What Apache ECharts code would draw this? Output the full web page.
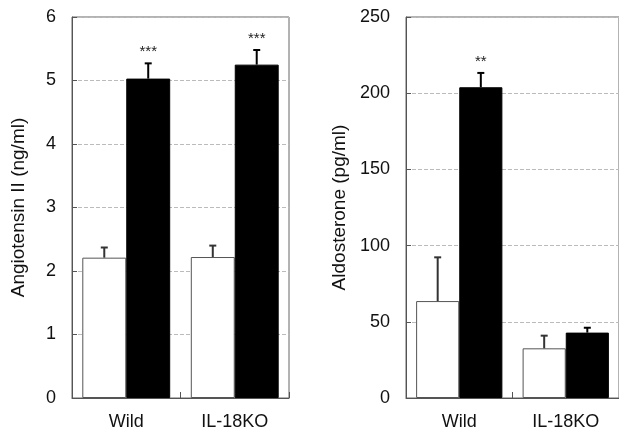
<!DOCTYPE html>
<html>
<head>
<meta charset="utf-8">
<script src="https://cdn.jsdelivr.net/npm/echarts@6/dist/echarts.min.js"></script>
<style>html,body{margin:0;padding:0;background:#fff;}#c{width:619px;height:432px;}</style>
</head>
<body>
<div id="c"></div>
<script>
const categories = ['Wild', 'IL-18KO'];
// Angiotensin II (ng/ml)
const angControl = [2.21, 2.22];
const angControlErr = [0.16, 0.18];
const angTreated = [5.03, 5.25];
const angTreatedErr = [0.24, 0.23];
const angSig = ['***', '***'];
const angTicks = [0, 1, 2, 3, 4, 5, 6];
// Aldosterone (pg/ml)
const aldoControl = [63.6, 32.6];
const aldoControlErr = [28.7, 8.3];
const aldoTreated = [203.9, 42.9];
const aldoTreatedErr = [9.4, 3.2];
const aldoSig = ['**', ''];
const aldoTicks = [0, 50, 100, 150, 200, 250];

const FONT = 'Liberation Sans, Arial, sans-serif';
const GAP = 0.19;

function errData(vals, errs, side, sig) {
  return vals.map((v, i) => [i, v, errs[i], side, sig ? sig[i] : '']);
}
function errRender(color) {
  return function (params, api) {
    const ci = api.value(0), v = api.value(1), e = api.value(2), side = api.value(3);
    const sig = api.value(4);
    const band = api.size([1, 0])[0];
    const bw = band * (1 - GAP) / 2;
    const base = api.coord([ci, v]);
    const top = api.coord([ci, v + e]);
    const x = base[0] + side * bw / 2;
    const children = [
      {type: 'line', shape: {x1: x, y1: base[1], x2: x, y2: top[1]}, style: {stroke: color, lineWidth: 2}},
      {type: 'line', shape: {x1: x - 3.5, y1: top[1], x2: x + 3.5, y2: top[1]}, style: {stroke: color, lineWidth: 2}}
    ];
    if (sig) {
      children.push({type: 'text', style: {text: sig, x: x, y: top[1] - 11, align: 'center', verticalAlign: 'middle',
        fontSize: 15, fontFamily: FONT, fill: '#222'}});
    }
    return {type: 'group', children: children};
  };
}

function yAxis(idx, ticks, name, gap) {
  return {
    type: 'value', gridIndex: idx, min: ticks[0], max: ticks[ticks.length - 1],
    interval: ticks[1] - ticks[0],
    name: name, nameLocation: 'middle', nameGap: gap, nameRotate: 90,
    nameTextStyle: {fontSize: 19, fontFamily: FONT, color: '#111'},
    axisLine: {show: true, lineStyle: {color: '#555', width: 1}},
    axisTick: {show: true, inside: true, length: 5, lineStyle: {color: '#555'}},
    axisLabel: {fontSize: 18, fontFamily: FONT, color: '#111', margin: 16},
    splitLine: {show: true, lineStyle: {type: 'dashed', color: '#bbb', width: 1}}
  };
}
function xAxis(idx) {
  return {
    type: 'category', gridIndex: idx, data: categories,
    axisLine: {show: true, lineStyle: {color: '#555', width: 1}},
    axisTick: {show: true, inside: true, length: 6, lineStyle: {color: '#555'}},
    axisLabel: {fontSize: 18, fontFamily: FONT, color: '#111', margin: 15}
  };
}
function bars(idx, vals, color) {
  return {
    type: 'bar', xAxisIndex: idx, yAxisIndex: idx, data: vals,
    barGap: '0%', barCategoryGap: (GAP * 100) + '%',
    itemStyle: {color: color, borderColor: color === '#fff' ? '#555' : '#000', borderWidth: 1},
    z: 2
  };
}
function errs(idx, vals, e, side, color, sig) {
  return {
    type: 'custom', xAxisIndex: idx, yAxisIndex: idx, data: errData(vals, e, side, sig),
    renderItem: errRender(color), z: 5, clip: false
  };
}

const chart = echarts.init(document.getElementById('c'));
chart.setOption({
  animation: false,
  backgroundColor: '#fff',
  grid: [
    {left: 72, top: 17, width: 217, bottom: 34, show: true, borderColor: '#666', borderWidth: 1},
    {left: 406, top: 17, width: 214, bottom: 34, show: true, borderColor: '#666', borderWidth: 1}
  ],
  xAxis: [xAxis(0), xAxis(1)],
  yAxis: [yAxis(0, angTicks, 'Angiotensin II (ng/ml)', 44), yAxis(1, aldoTicks, 'Aldosterone (pg/ml)', 57)],
  series: [
    bars(0, angControl, '#fff'),
    bars(0, angTreated, '#000'),
    errs(0, angControl, angControlErr, -1, '#333', null),
    errs(0, angTreated, angTreatedErr, 1, '#000', angSig),
    bars(1, aldoControl, '#fff'),
    bars(1, aldoTreated, '#000'),
    errs(1, aldoControl, aldoControlErr, -1, '#333', null),
    errs(1, aldoTreated, aldoTreatedErr, 1, '#000', aldoSig)
  ]
});
</script>
</body>
</html>
